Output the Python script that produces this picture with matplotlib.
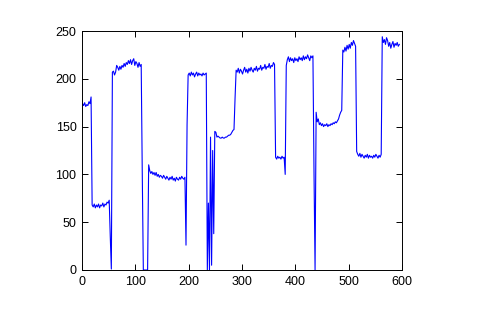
import numpy as np
import matplotlib
matplotlib.use("Agg")
import matplotlib.pyplot as plt

# Segments of the signal: (x start, values sampled every 2 units)
seg_a = (1, [174, 172, 175, 171, 173, 172, 176, 174, 181])
seg_b = (19, [68, 66, 69, 65, 68, 66, 69, 65, 68, 67, 70, 66, 69, 68, 71, 70, 73])
seg_c = (53, [35, 1])
seg_d = (57, [207, 208, 204, 207, 214, 212, 209, 213, 210, 214, 212, 216, 213, 217,
              215, 219, 216, 220, 215, 219, 221, 214, 218, 216, 212, 217, 213, 215])
seg_e = (113, [101, 0, 0, 0, 0, 0])
seg_f = (125, [110, 104, 101, 103, 100, 102, 99, 102, 98, 100, 97, 99, 98, 96, 99,
               97, 95, 98, 96, 94, 97, 95, 98, 94, 96, 93, 97, 95, 94, 97, 95, 98,
               96, 95, 97])
seg_g = (195, [26, 152])
seg_h = (199, [204, 206, 203, 207, 204, 206, 202, 205, 207, 203, 206, 204, 205,
               203, 206, 204, 205, 206])
seg_i = (235, [0, 70, 0, 139, 5, 125, 38, 145])
seg_j = (251, [144, 139, 140, 139, 138, 138, 139, 138, 138, 139, 139, 140, 141,
               141, 142, 144, 146, 147])
seg_k = (287, [180, 209, 207, 211, 206, 210, 208, 205, 209, 212, 207, 210, 206,
               211, 208, 212, 209, 207, 211, 209, 213, 208, 211, 210, 214, 209,
               212, 211, 215, 210, 213, 212, 216, 211, 214, 213, 217, 215])
seg_l = (363, [118, 116, 119, 117, 118, 116, 119, 117, 118, 100])
seg_m = (383, [214, 220, 223, 218, 222, 219, 221, 217, 222, 219, 221, 218, 223,
               220, 222, 219, 224, 220, 223, 221, 225, 222, 219, 224, 222, 224])
seg_n = (435, [103, 0, 165])
seg_o = (441, [155, 158, 152, 154, 151, 153, 150, 152, 151, 153, 150, 152, 151,
               153, 152, 154, 153, 155, 154, 156, 158, 162, 165, 167])
seg_p = (489, [230, 228, 233, 229, 235, 231, 236, 232, 238, 235, 240, 237, 234])
seg_q = (515, [124, 121, 119, 122, 118, 121, 119, 117, 120, 118, 121, 117, 120,
               118, 119, 117, 120, 118, 121, 119, 117, 120, 118, 121])
seg_r = (563, [244, 238, 241, 236, 243, 240, 234, 238, 232, 236, 239, 233, 237,
               235, 238, 234, 236])

segments = [seg_a, seg_b, seg_c, seg_d, seg_e, seg_f, seg_g, seg_h, seg_i, seg_j,
            seg_k, seg_l, seg_m, seg_n, seg_o, seg_p, seg_q, seg_r]

x_ticks = [0, 100, 200, 300, 400, 500, 600]
y_ticks = [0, 50, 100, 150, 200, 250]

xs, ys = [], []
for start, vals in segments:
    xs.extend(start + 2 * np.arange(len(vals)))
    ys.extend(vals)

plt.rcParams['font.family'] = ['Liberation Sans', 'DejaVu Sans']
fig = plt.figure(figsize=(4.84, 3.26), dpi=100)
fig.patch.set_facecolor('white')
ax = fig.add_axes([82 / 484, 56 / 326, 320 / 484, 239 / 326])
ax.plot(xs, ys, color=(0, 0, 1), linewidth=0.8)
ax.set_xlim(0, 600)
ax.set_ylim(0, 250)
ax.set_xticks(x_ticks)
ax.set_yticks(y_ticks)
ax.tick_params(direction='in', length=4, width=0.7, top=True, right=True,
               labelsize=9, colors='black')
ax.tick_params(axis='x', pad=4)
ax.tick_params(axis='y', pad=4)
for s in ax.spines.values():
    s.set_linewidth(0.7)
    s.set_color('black')
fig.savefig('out.png', dpi=100, facecolor='white')
